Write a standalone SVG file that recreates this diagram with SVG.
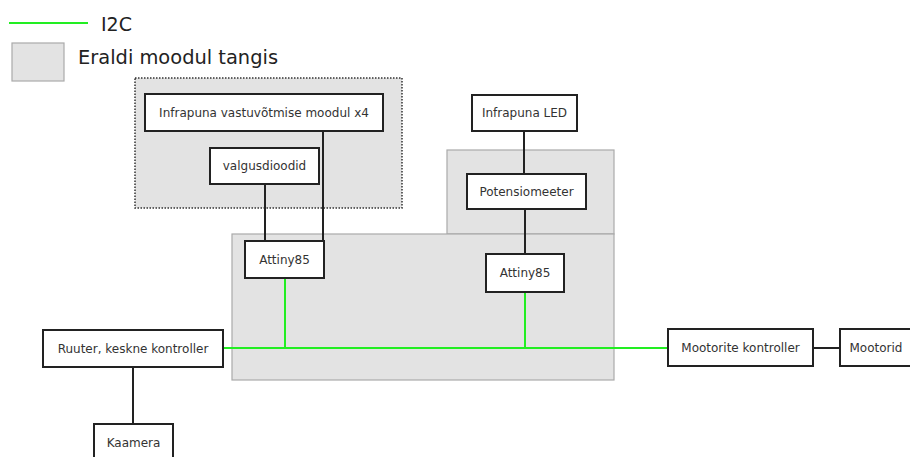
<svg xmlns="http://www.w3.org/2000/svg" width="910" height="457" viewBox="0 0 910 457">
<style>
.bg{fill:#fff}
.mod{fill:#e3e3e3;stroke:#aaa;stroke-width:1.2}
.dot{fill:#e3e3e3;stroke:#333;stroke-width:1.5;stroke-dasharray:1.5 1.5}
.box{fill:#fff;stroke:#222;stroke-width:2}
.t{font-family:"DejaVu Sans",sans-serif;font-size:12px;fill:#333;text-anchor:middle;dominant-baseline:central}
.lt{font-family:"DejaVu Sans",sans-serif;font-size:19px;fill:#222}
.w{stroke:#222;stroke-width:2;fill:none}
.g{stroke:#22ee22;stroke-width:2;fill:none}
</style>
<rect class="bg" width="910" height="457"/>
<g id="legend">
<line class="g" x1="9" y1="23" x2="88" y2="23" stroke-width="2.5"/>
<text class="lt" x="101" y="31" font-size="21">I2C</text>
<rect class="mod" x="12" y="43" width="52" height="38" stroke="#888"/>
<text class="lt" x="78" y="64" textLength="200" lengthAdjust="spacingAndGlyphs">Eraldi moodul tangis</text>
</g>
<g id="modules">
<rect class="mod" x="447" y="150" width="167" height="84"/>
<rect class="mod" x="232" y="234" width="382" height="146"/>
<rect class="dot" x="135" y="78" width="267" height="130"/>
</g>
<g id="connectors">
<line class="w" x1="265" y1="184" x2="265" y2="241"/>
<line class="w" x1="323" y1="131" x2="323" y2="241"/>
<line class="w" x1="524" y1="131" x2="524" y2="174"/>
<line class="w" x1="525" y1="209" x2="525" y2="254"/>
<line class="w" x1="133" y1="367" x2="133" y2="424"/>
<line class="w" x1="813" y1="348" x2="840" y2="348"/>
<line class="g" x1="223" y1="348" x2="668" y2="348"/>
<line class="g" x1="285" y1="278" x2="285" y2="348"/>
<line class="g" x1="525" y1="292" x2="525" y2="348"/>
</g>
<g id="n-infrapuna-moodul"><rect class="box" x="145" y="94" width="238" height="37"/><text class="t" x="264" y="112.5">Infrapuna vastuvõtmise moodul x4</text></g>
<g id="n-valgusdioodid"><rect class="box" x="210" y="148" width="109" height="36"/><text class="t" x="264.5" y="166">valgusdioodid</text></g>
<g id="n-attiny-left"><rect class="box" x="245" y="241" width="79" height="37"/><text class="t" x="284.5" y="259.5">Attiny85</text></g>
<g id="n-infrapuna-led"><rect class="box" x="472" y="95" width="105" height="36"/><text class="t" x="524.5" y="113">Infrapuna LED</text></g>
<g id="n-potensiomeeter"><rect class="box" x="467" y="174" width="119" height="35"/><text class="t" x="526.5" y="191.5">Potensiomeeter</text></g>
<g id="n-attiny-right"><rect class="box" x="486" y="254" width="78" height="38"/><text class="t" x="525" y="273">Attiny85</text></g>
<g id="n-ruuter"><rect class="box" x="43" y="330" width="180" height="37"/><text class="t" x="133" y="348.5">Ruuter, keskne kontroller</text></g>
<g id="n-kaamera"><rect class="box" x="94" y="424" width="79" height="40"/><text class="t" x="133.5" y="443">Kaamera</text></g>
<g id="n-mootorite"><rect class="box" x="668" y="329" width="145" height="37"/><text class="t" x="740.5" y="347.5">Mootorite kontroller</text></g>
<g id="n-mootorid"><rect class="box" x="840" y="329" width="80" height="37"/><text class="t" x="876" y="347.5">Mootorid</text></g>
</svg>
